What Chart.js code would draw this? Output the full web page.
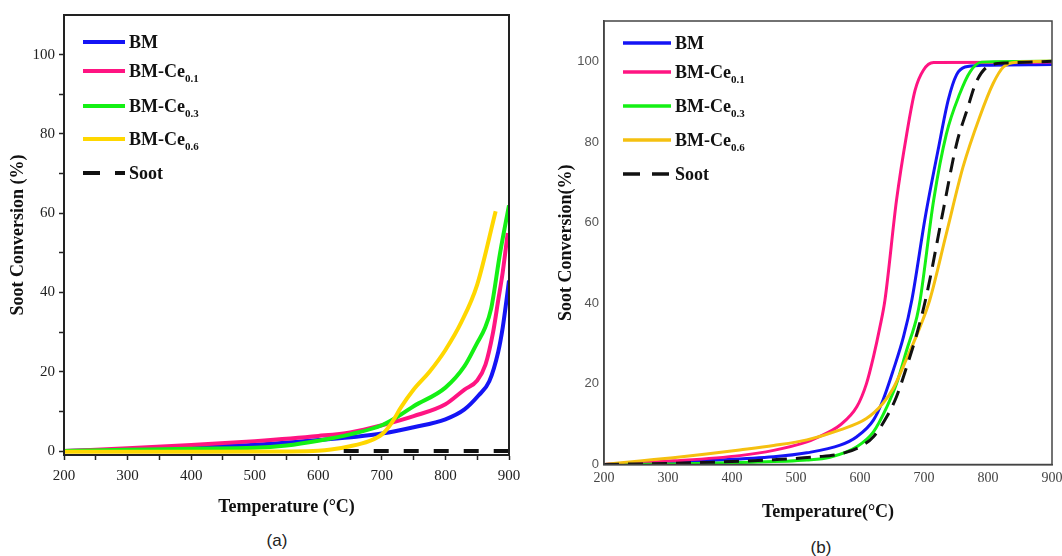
<!DOCTYPE html>
<html lang="en">
<head>
<meta charset="UTF-8">
<title>Soot Conversion</title>
<script src="https://cdn.jsdelivr.net/npm/chart.js"></script>
<style>
    body { margin: 0; background: #fff; }
    #wrap { position: relative; width: 1062px; height: 556px; overflow: hidden; }
    canvas { position: absolute; top: 0; }
    .legend { position: absolute; font-family: 'Liberation Serif', 'DejaVu Serif', serif; font-weight: bold; font-size: 18px; color: #111; }
    .row { position: absolute; left: 0; height: 22px; line-height: 22px; white-space: nowrap; }
    .row svg { position: absolute; left: 0; top: 7px; }
    .row span { position: absolute; top: 0; }
    .row sub { font-size: 11px; vertical-align: -5px; line-height: 0; }
    .cap { position: absolute; font-family: 'Liberation Sans', Arial, sans-serif; font-size: 17px; color: #222; transform: translate(-50%, -50%); }
</style>
</head>
<body>
<div id="wrap">
    <canvas id="chartA" width="540" height="530" style="left:0"></canvas>
    <canvas id="chartB" width="522" height="530" style="left:540px"></canvas>
    <div class="legend" id="legendA"></div>
    <div class="legend" id="legendB"></div>
    <div class="cap" style="left:277px; top:541px">(a)</div>
    <div class="cap" style="left:821px; top:548px">(b)</div>
</div>
<script>
// legend order
const seriesNames = ['BM', 'BM-Ce', 'BM-Ce', 'BM-Ce', 'Soot'];
const seriesSubs = ['', '0.1', '0.3', '0.6', ''];
const colorsA = ['#1414f5', '#ff1482', '#14f014', '#ffd700', '#111111'];
const colorsB = ['#1414f5', '#ff1482', '#14f014', '#f5c010', '#111111'];

// panel (a): [temperature, conversion %]
const aBM = [[200,0],[300,0.4],[400,1.0],[500,1.6],[600,2.8],[660,3.6],[700,4.4],[750,6],[800,8],[830,10.5],[852,14],[869,17.6],[883,25],[890,31],[896,38],[900,43]];
const aCe01 = [[200,0],[300,0.7],[400,1.5],[500,2.5],[600,3.8],[650,4.7],[700,6.5],[750,8.8],[800,11.8],[830,15.5],[850,17.8],[863,21.8],[875,30],[883,38],[890,45],[898,55]];
const aCe03 = [[200,0],[300,0.3],[400,0.6],[500,0.8],[550,1.4],[600,2.6],[650,4.2],[700,6.5],[730,9.2],[750,11.3],[800,16],[830,21.4],[850,27.3],[862,31],[872,36],[886,50],[900,62]];
const aCe06 = [[200,-0.2],[400,-0.2],[550,-0.1],[600,0.1],[620,0.4],[650,1.2],[680,2.5],[700,4.2],[715,7],[730,11],[750,15.5],[775,20],[800,25.5],[825,32.5],[850,42],[879,60.5]];
const aSoot = [[640,0],[900,0]];

// panel (b)
const bBM = [[200,0],[256,0.3],[360,1],[465,1.9],[517,2.9],[569,4.8],[595,6.9],[621,11],[636,16],[652,23.4],[668,31.7],[681,40.8],[702,61.4],[722,78],[738,90.5],[751,96.7],[764,98.6],[790,99],[900,99.2]];
const bCe01 = [[200,0],[308,0.9],[412,2.2],[465,3.5],[517,5.6],[532,6.6],[569,9.8],[595,14.3],[610,20],[621,26.7],[631,34],[639,40.8],[657,65.5],[673,82],[686,92.8],[699,97.8],[715,99.7],[900,99.8]];
const bCe03 = [[200,0],[220,0],[308,0.1],[412,0.5],[517,1.1],[553,1.8],[595,4.4],[621,8.1],[642,14.3],[657,20],[673,28.4],[689,36.7],[694,40.8],[715,65.5],[735,82],[756,92],[772,97.4],[790,99.8],[900,100]];
const bCe06 = [[200,0],[256,0.9],[308,1.7],[360,2.6],[412,3.6],[465,4.7],[517,6.1],[569,8.6],[610,11.4],[636,15.2],[652,18.9],[673,26.3],[694,34.2],[709,40.8],[735,57.3],[761,73.8],[787,86.2],[808,94.5],[824,98.6],[845,99.8],[900,100]];
const bSoot = [[200,0],[308,0.3],[412,0.8],[465,1.2],[532,1.9],[569,2.6],[600,4.4],[621,6.9],[642,11.9],[657,16.8],[673,24.3],[689,32.5],[704,42],[730,63],[751,79.6],[767,87.8],[782,95],[803,99],[830,99.6],[900,100]];

const xTicks = [200, 300, 400, 500, 600, 700, 800, 900];
const yTicks = [0, 20, 40, 60, 80, 100];

const serif = "'Liberation Serif', 'DejaVu Serif', serif";
const sans = "'Liberation Sans', Arial, sans-serif";

const framePlugin = {
    id: 'frame',
    afterDraw(chart, args, opts) {
        const {ctx, chartArea: a} = chart;
        ctx.save();
        ctx.strokeStyle = opts.color;
        ctx.lineWidth = opts.width;
        ctx.strokeRect(a.left, a.top, a.right - a.left, a.bottom - a.top);
        ctx.restore();
    }
};

function makeSets(list, colors, width, dash) {
    // first in list ends up on top
    return list.map((pts, i) => ({
        label: seriesNames[i] + seriesSubs[i],
        data: pts.map(p => ({x: p[0], y: p[1]})),
        borderColor: colors[i],
        borderWidth: width,
        borderDash: i === 4 ? dash : [],
        pointRadius: 0,
        cubicInterpolationMode: 'monotone',
        fill: false
    })).reverse();
}

function buildLegend(id, left, rows, lineW, thick, dash, colors) {
    const box = document.getElementById(id);
    box.style.left = left + 'px';
    box.style.top = '0px';
    seriesNames.forEach((n, i) => {
        const row = document.createElement('div');
        row.className = 'row';
        row.style.top = (rows[i] - 11) + 'px';
        const d = i === 4 ? ` stroke-dasharray="${dash}"` : '';
        row.innerHTML = `<svg width="${lineW}" height="8"><line x1="0" y1="4" x2="${lineW}" y2="4" stroke="${colors[i]}" stroke-width="${thick}"${d}/></svg>` +
            `<span style="left:${lineW + 4}px">${n}${seriesSubs[i] ? '<sub>' + seriesSubs[i] + '</sub>' : ''}</span>`;
        box.appendChild(row);
    });
}

// panel (a)
new Chart(document.getElementById('chartA'), {
    type: 'line',
    data: { datasets: makeSets([aBM, aCe01, aCe03, aCe06, aSoot], colorsA, 4, [15, 15]) },
    plugins: [framePlugin],
    options: {
        responsive: false,
        animation: false,
        devicePixelRatio: 1,
        layout: { padding: { left: 0, top: 15, right: 31, bottom: 0 } },
        plugins: { legend: { display: false }, tooltip: { enabled: false }, frame: { color: '#222', width: 2 } },
        scales: {
            x: {
                type: 'linear', min: 200, max: 900,
                afterFit: s => { s.height = 75; s.paddingLeft = 0; s.paddingRight = 0; },
                afterBuildTicks: s => { s.ticks = []; for (let v = 200; v <= 900; v += 50) s.ticks.push({value: v}); },
                grid: { drawOnChartArea: false, drawTicks: true, tickLength: 5, tickColor: '#222', tickWidth: 1.5 },
                border: { color: '#222', width: 2 },
                ticks: { autoSkip: false, maxRotation: 0, padding: 7, color: '#222', font: { family: serif, size: 15 },
                    callback: v => xTicks.includes(v) ? v : '' },
                title: { display: true, text: 'Temperature (°C)', color: '#111', padding: { top: 4, bottom: 12 },
                    font: { family: serif, size: 18, weight: 'bold' } }
            },
            y: {
                min: -1, max: 110,
                afterFit: s => { s.width = 64; },
                afterBuildTicks: s => { s.ticks = []; for (let v = 0; v <= 100; v += 10) s.ticks.push({value: v}); },
                grid: { drawOnChartArea: false, drawTicks: true, tickLength: 5, tickColor: '#222', tickWidth: 1.5 },
                border: { color: '#222', width: 2 },
                ticks: { autoSkip: false, padding: 4, color: '#222', font: { family: serif, size: 15 },
                    callback: v => yTicks.includes(v) ? v : '' },
                title: { display: true, text: 'Soot Conversion (%)', color: '#111', padding: { top: 8, bottom: 4 },
                    font: { family: serif, size: 18, weight: 'bold' } }
            }
        }
    }
});

// panel (b)
new Chart(document.getElementById('chartB'), {
    type: 'line',
    data: { datasets: makeSets([bBM, bCe01, bCe03, bCe06, bSoot], colorsB, 3, [15, 9]) },
    plugins: [framePlugin],
    options: {
        responsive: false,
        animation: false,
        devicePixelRatio: 1,
        layout: { padding: { left: 0, top: 21, right: 10, bottom: 0 } },
        plugins: { legend: { display: false }, tooltip: { enabled: false }, frame: { color: '#444', width: 1.5 } },
        scales: {
            x: {
                type: 'linear', min: 200, max: 900,
                afterFit: s => { s.height = 65.5; s.paddingLeft = 0; s.paddingRight = 0; },
                afterBuildTicks: s => { s.ticks = xTicks.map(v => ({value: v})); },
                grid: { display: false, drawTicks: false },
                border: { color: '#444', width: 1.5 },
                ticks: { autoSkip: false, maxRotation: 0, padding: 5, color: '#444', font: { family: serif, size: 14 } },
                title: { display: true, text: 'Temperature(°C)', color: '#111', padding: { top: 4, bottom: 7 },
                    font: { family: serif, size: 18, weight: 'bold' } }
            },
            y: {
                min: 0, max: 110,
                afterFit: s => { s.width = 64; },
                afterBuildTicks: s => { s.ticks = yTicks.map(v => ({value: v})); },
                grid: { display: false, drawTicks: false },
                border: { color: '#444', width: 1.5 },
                ticks: { autoSkip: false, padding: 5, color: '#555', font: { family: sans, size: 13 } },
                title: { display: true, text: 'Soot Conversion(%)', color: '#111', padding: { top: 16, bottom: 4 },
                    font: { family: serif, size: 18, weight: 'bold' } }
            }
        }
    }
});

buildLegend('legendA', 83, [42, 71, 106, 139, 173], 42, 4, '17 15', colorsA);
buildLegend('legendB', 623, [43, 72, 106, 140, 174], 48, 3.5, '17 12', colorsB);
</script>
</body>
</html>
